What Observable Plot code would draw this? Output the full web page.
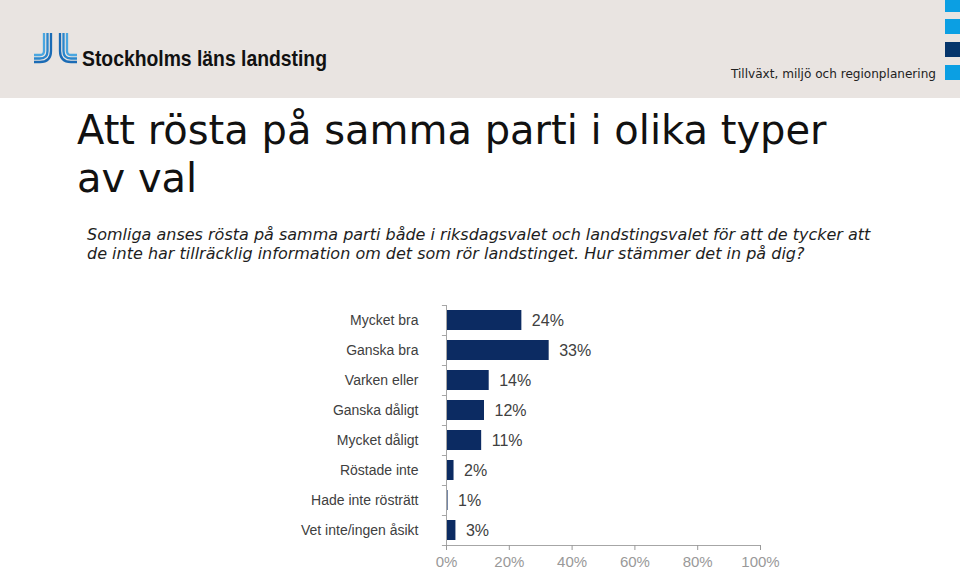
<!DOCTYPE html>
<html>
<head>
<meta charset="utf-8">
<script src="https://cdn.jsdelivr.net/npm/d3@7"></script>
<script src="https://cdn.jsdelivr.net/npm/@observablehq/plot@0.6"></script>
<style>
  html, body { margin: 0; padding: 0; background: #fff; }
  #page { position: relative; width: 960px; height: 571px; overflow: hidden; }
  #header { position: absolute; left: 0; top: 0; width: 960px; height: 98px; }
  #title { position: absolute; left: 77px; top: 106px; font-family: "DejaVu Sans", Verdana, sans-serif; font-size: 40px; line-height: 48px; color: #111; white-space: nowrap; }
  #subtitle { position: absolute; left: 87px; top: 225px; font-family: "DejaVu Sans", Verdana, sans-serif; font-style: italic; font-size: 16px; line-height: 19px; color: #1e1e1e; white-space: nowrap; }
  #chart { position: absolute; left: 0; top: 300px; }
</style>
</head>
<body>
<div id="page">
  <svg id="header" width="960" height="98" xmlns="http://www.w3.org/2000/svg">
    <rect x="0" y="0" width="960" height="98" fill="#e9e4e1"/>
    <g fill="none" stroke-width="2.3" stroke-linecap="butt">
      <path d="M44,33 V51 Q44,55 40,55 H34" stroke="#4aa6e0"/>
      <path d="M47.5,33 V51 Q47.5,58.5 40,58.5 H34" stroke="#2b86cc"/>
      <path d="M51,33 V51 Q51,62 40,62 H34" stroke="#1b6bb5"/>
      <path d="M67,33 V51 Q67,55 71,55 H77" stroke="#4aa6e0"/>
      <path d="M63.5,33 V51 Q63.5,58.5 71,58.5 H77" stroke="#2b86cc"/>
      <path d="M60,33 V51 Q60,62 71,62 H77" stroke="#1b6bb5"/>
    </g>
    <text x="82" y="66" font-family="'Liberation Sans', Arial, sans-serif" font-weight="bold" font-size="22" fill="#111" textLength="245" lengthAdjust="spacingAndGlyphs">Stockholms läns landsting</text>
    <text x="731" y="78" font-family="'DejaVu Sans', Verdana, sans-serif" font-size="12.5" fill="#222" textLength="205" lengthAdjust="spacingAndGlyphs">Tillväxt, miljö och regionplanering</text>
    <rect x="945" y="0" width="15" height="12" fill="#0b9fe3"/>
    <rect x="945" y="19" width="15" height="15" fill="#0b9fe3"/>
    <rect x="945" y="42" width="15" height="15" fill="#05356b"/>
    <rect x="945" y="65" width="15" height="15" fill="#0b9fe3"/>
  </svg>
  <div id="title">Att rösta på samma parti i olika typer<br>av val</div>
  <div id="subtitle">Somliga anses rösta på samma parti både i riksdagsvalet och landstingsvalet för att de tycker att<br>de inte har tillräcklig information om det som rör landstinget. Hur stämmer det in på dig?</div>
  <div id="chart"></div>
</div>
<script>
const categories = ["Mycket bra", "Ganska bra", "Varken eller", "Ganska dåligt", "Mycket dåligt", "Röstade inte", "Hade inte rösträtt", "Vet inte/ingen åsikt"];
const values = [24, 32.7, 13.6, 12.1, 11.2, 2.4, 0.5, 3.0];
const xTicks = [0, 20, 40, 60, 80, 100];

const data = categories.map((c, i) => ({category: c, value: values[i]}));
const lastCat = categories[categories.length - 1];

const chart = Plot.plot({
  width: 960,
  height: 271,
  marginLeft: 446,
  marginRight: 200,
  marginTop: 5,
  marginBottom: 26,
  style: {fontFamily: "'Liberation Sans', Arial, sans-serif", background: "transparent", overflow: "visible"},
  x: {domain: [0, 100], label: null},
  y: {domain: categories, padding: 0, label: null},
  marks: [
    Plot.barX(data, {x: "value", y: "category", fill: "#0c2b62", insetTop: 5, insetBottom: 5}),
    Plot.ruleX([0], {stroke: "#a6a6a6", strokeWidth: 1}),
    Plot.ruleY(categories, {y: d => d, x1: -1.3, x2: 0, dy: -15, stroke: "#a6a6a6"}),
    Plot.ruleY([lastCat], {y: d => d, x1: -1.3, x2: 100, dy: 15, stroke: "#a6a6a6"}),
    Plot.text(data, {x: "value", y: "category", text: d => Math.round(d.value) + "%", dx: 10, textAnchor: "start", fontSize: 16, fill: "#404040"}),
    Plot.axisX({ticks: xTicks, tickSize: 5, tickPadding: 6, tickFormat: d => d + "%", fontSize: 15, color: "#999", label: null}),
    Plot.axisY({tickSize: 0, tickPadding: 28, fontSize: 14, color: "#404040", label: null})
  ]
});
document.getElementById("chart").appendChild(chart);
</script>
</body>
</html>
